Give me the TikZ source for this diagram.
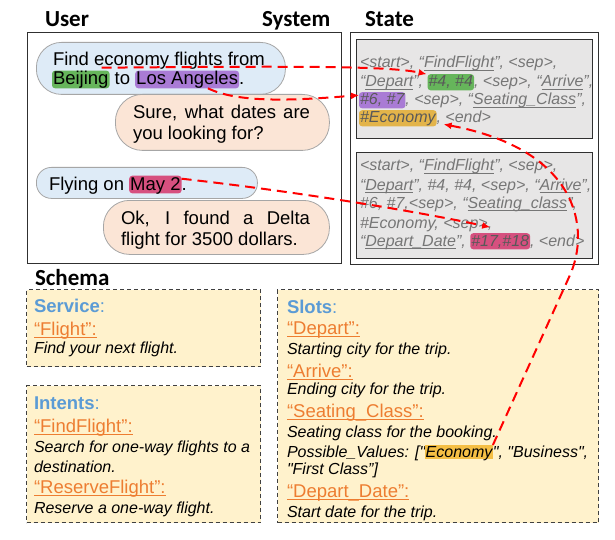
\documentclass[tikz,border=0pt]{standalone}
\usepackage{fontspec}
\setmainfont{Liberation Sans}
\newfontfamily\titlefont{Carlito}
\newfontfamily\rawfont{Liberation Sans}[Ligatures=TeXOff]
\usetikzlibrary{arrows.meta,calc}
\definecolor{ublue}{HTML}{DEEBF7}
\definecolor{speach}{HTML}{FBE5D6}
\definecolor{bubline}{HTML}{A6A6A6}
\definecolor{hlgreen}{HTML}{66B55B}
\definecolor{hlpurple}{HTML}{A97BD5}
\definecolor{hlpink}{HTML}{D6507F}
\definecolor{hlorange}{HTML}{E3B44A}
\definecolor{hlgold}{HTML}{F5BF45}
\definecolor{stgray}{HTML}{767676}
\definecolor{stfill}{HTML}{E7E6E6}
\definecolor{schfill}{HTML}{FFF2CC}
\definecolor{schblue}{HTML}{5B9BD5}
\definecolor{schorange}{HTML}{ED7D31}
\definecolor{boxline}{HTML}{303030}
\newsavebox\ulbox
\newcommand\uln[1]{\sbox\ulbox{#1}\rlap{\rule[-2.6pt]{\wd\ulbox}{0.9pt}}\usebox\ulbox}
\tikzset{
  txt/.style={anchor=base west, inner sep=0pt, outer sep=0pt},
  dlg/.style={txt, font=\fontsize{18.5}{20}\selectfont},
  st/.style={txt, font=\fontsize{16}{19}\selectfont\itshape, text=stgray},
  hl/.style={fill=#1, rounded corners=3pt, inner xsep=1pt, inner ysep=0.8pt},
  dlghl/.style={dlg, hl=#1, text height=13.5pt, text depth=2.5pt},
  sthl/.style={st, hl=#1, text=black!65, text height=12pt, text depth=2.5pt},
  ttl/.style={txt, font=\titlefont\bfseries\fontsize{23}{25}\selectfont},
  sh/.style={txt, font=\fontsize{18.5}{20}\selectfont, text=schblue},
  so/.style={txt, font=\fontsize{18.5}{20}\selectfont, text=schorange},
  sd/.style={txt, font=\fontsize{16}{19}\selectfont\itshape},
  sdraw/.style={txt, font=\rawfont\fontsize{16}{19}\selectfont\itshape},
  bubble/.style={draw=bubline, line width=0.8pt, anchor=north west, inner sep=0pt},
  ububble/.style={bubble, fill=ublue},
  sbubble/.style={bubble, fill=speach},
  plainbox/.style={draw=boxline, line width=1.2pt, anchor=north west, inner sep=0pt},
  stbox/.style={plainbox, fill=stfill},
  schbox/.style={draw=black!75, fill=schfill, dash pattern=on 4pt off 3pt, line width=1pt, anchor=north west, inner sep=0pt},
  redarrow/.style={draw=red, line width=2pt, dash pattern=on 10pt off 6pt, -{Latex[length=8pt,width=7pt]}},
}
\begin{document}
\begin{tikzpicture}[x=1pt,y=-1pt]
\path[fill=white, use as bounding box] (0,0) rectangle (615,540);

% titles
\node[ttl] (tuser) at (45,27) {User};
\node[ttl] (tsys) at (262,27) {System};
\node[ttl] (tstate) at (365,27) {State};
\node[ttl] (tschema) at (35,285) {Schema};

% frames
\node[plainbox, minimum width=314pt, minimum height=231pt] (dframe) at (27,32) {};
\node[plainbox, minimum width=248pt, minimum height=232pt] (sframe) at (350,32) {};
\node[stbox, minimum width=236pt, minimum height=99pt] (st1) at (356,39) {};
\node[stbox, minimum width=236pt, minimum height=106pt] (st2) at (356,152) {};

% dialogue bubbles
\node[ububble, rounded corners=25pt, minimum width=249pt, minimum height=52pt] (b1) at (36,42) {};
\node[sbubble, rounded corners=27pt, minimum width=214pt, minimum height=56pt] (b2) at (115,94) {};
\node[ububble, rounded corners=15pt, minimum width=221pt, minimum height=31pt] (b3) at (36,167) {};
\node[sbubble, rounded corners=26pt, minimum width=226pt, minimum height=54pt] (b4) at (103,200) {};

% dialogue text
\node[dlg] (u1a) at (53,65.5) {Find economy flights from};
\node[dlghl=hlgreen] (bj) at (52,85) {Beijing};
\node[dlg] (u1to) at (bj.base east) {\null~to~\null};
\node[dlghl=hlpurple] (la) at (u1to.base east) {Los Angeles};
\node[dlg] (u1dot) at (la.base east) {.};

\node[dlg] (s1a) at (133,119) {\makebox[177pt][s]{Sure, what dates are}};
\node[dlg] (s1b) at (133,140) {you looking for?};

\node[dlg] (u2a) at (49,190) {Flying on~\null};
\node[dlghl=hlpink] (may) at (u2a.base east) {May 2};
\node[dlg] (u2dot) at (may.base east) {.};

\node[dlg] (s2a) at (121,224) {\makebox[189pt][s]{Ok, I found a Delta}};
\node[dlg] (s2b) at (121,245) {flight for 3500 dollars.};

% state box 1
\node[st] (a1) at (360,68) {<start>, “\uln{FindFlight}”, <sep>,};
\node[st] (a2a) at (360,87) {“\uln{Depart}”,~\null};
\node[sthl=hlgreen] (h44) at (a2a.base east) {\#4, \#4};
\node[st] (a2c) at (h44.base east) {, <sep>, “\uln{Arrive}”,};
\node[sthl=hlpurple] (h67) at (359,105) {\#6, \#7};
\node[st] (a3b) at (h67.base east) {, <sep>, “\uln{Seating\_Class}”,};
\node[sthl=hlorange] (hEco) at (359,123) {\#Economy};
\node[st] (a4b) at (hEco.base east) {, <end>};

% state box 2
\node[st] (c1) at (360,171) {<start>, “\uln{FindFlight}”, <sep>,};
\node[st] (c2) at (360,190) {“\uln{Depart}”, \#4, \#4, <sep>, “\uln{Arrive}”,};
\node[st] (c3) at (360,208) {\#6, \#7,<sep>, “\uln{Seating\_class}”,};
\node[st] (c4) at (360,228) {\#Economy, <sep>,};
\node[st] (c5a) at (360,246) {“\uln{Depart\_Date}”,~\null};
\node[sthl=hlpink] (h1718) at (c5a.base east) {\#17,\#18};
\node[st] (c5c) at (h1718.base east) {, <end>};

% schema boxes
\node[schbox, minimum width=234pt, minimum height=77pt] (sc1) at (26,289) {};
\node[schbox, minimum width=234pt, minimum height=137pt] (sc2) at (26,385) {};
\node[schbox, minimum width=321pt, minimum height=233pt] (sc3) at (277,289) {};

\node[sh] (svc) at (34,312) {\textbf{Service}:};
\node[so] (svcf) at (34,335) {\uln{“Flight”:}};
\node[sd] (svcd) at (34,353) {Find your next flight.};

\node[sh] (int) at (34,409) {\textbf{Intents}:};
\node[so] (int1) at (34,432) {\uln{“FindFlight”:}};
\node[sd] (int1a) at (34,452) {Search for one-way flights to a};
\node[sd] (int1b) at (34,472) {destination.};
\node[so] (int2) at (34,493) {\uln{“ReserveFlight”:}};
\node[sd] (int2a) at (34,513) {Reserve a one-way flight.};

\node[sh] (slt) at (287,313) {\textbf{Slots}:};
\node[so] (sl1) at (287,334) {\uln{“Depart”:}};
\node[sd] (sl1a) at (287,354) {Starting city for the trip.};
\node[so] (sl2) at (287,377) {\uln{“Arrive”:}};
\node[sd] (sl2a) at (287,394) {Ending city for the trip.};
\node[so] (sl3) at (287,417) {\uln{“Seating\_Class”:}};
\node[sd] (sl3a) at (287,437) {Seating class for the booking.};
\node[sdraw] (pv1) at (287,457) {Possible\_Values: ["};
\node[sdraw, fill=hlgold, inner xsep=0.5pt, inner ysep=0.5pt, text height=11.5pt, text depth=1.5pt] (ecoS) at (pv1.base east) {Economy};
\node[sdraw] (pv2) at (ecoS.base east) {", "Business",};
\node[sdraw] (pv3) at (287,474) {"First Class”]};
\node[so] (sl4) at (287,497) {\uln{“Depart\_Date”:}};
\node[sd] (sl4a) at (287,517) {Start date for the trip.};

% red dashed connectors
\draw[redarrow] ($(bj.north east)+(-8,-3)$) .. controls (300,66) and (390,66) .. ($(h44.north west)+(-1,0)$);
\draw[redarrow] ($(la.south west)!0.7!(la.south east)$) .. controls (240,104) and (300,100) .. ($(h67.north west)+(0,3)$);
\draw[redarrow] ($(may.north east)+(0,3)$) .. controls (300,192) and (420,212) .. ($(h1718.north)+(-10,-6)$);
\draw[redarrow] (ecoS.north east) -- (570,275) .. controls (590,230) and (580,150) .. ($(hEco.south east)+(7,-2)$);
\end{tikzpicture}
\end{document}
